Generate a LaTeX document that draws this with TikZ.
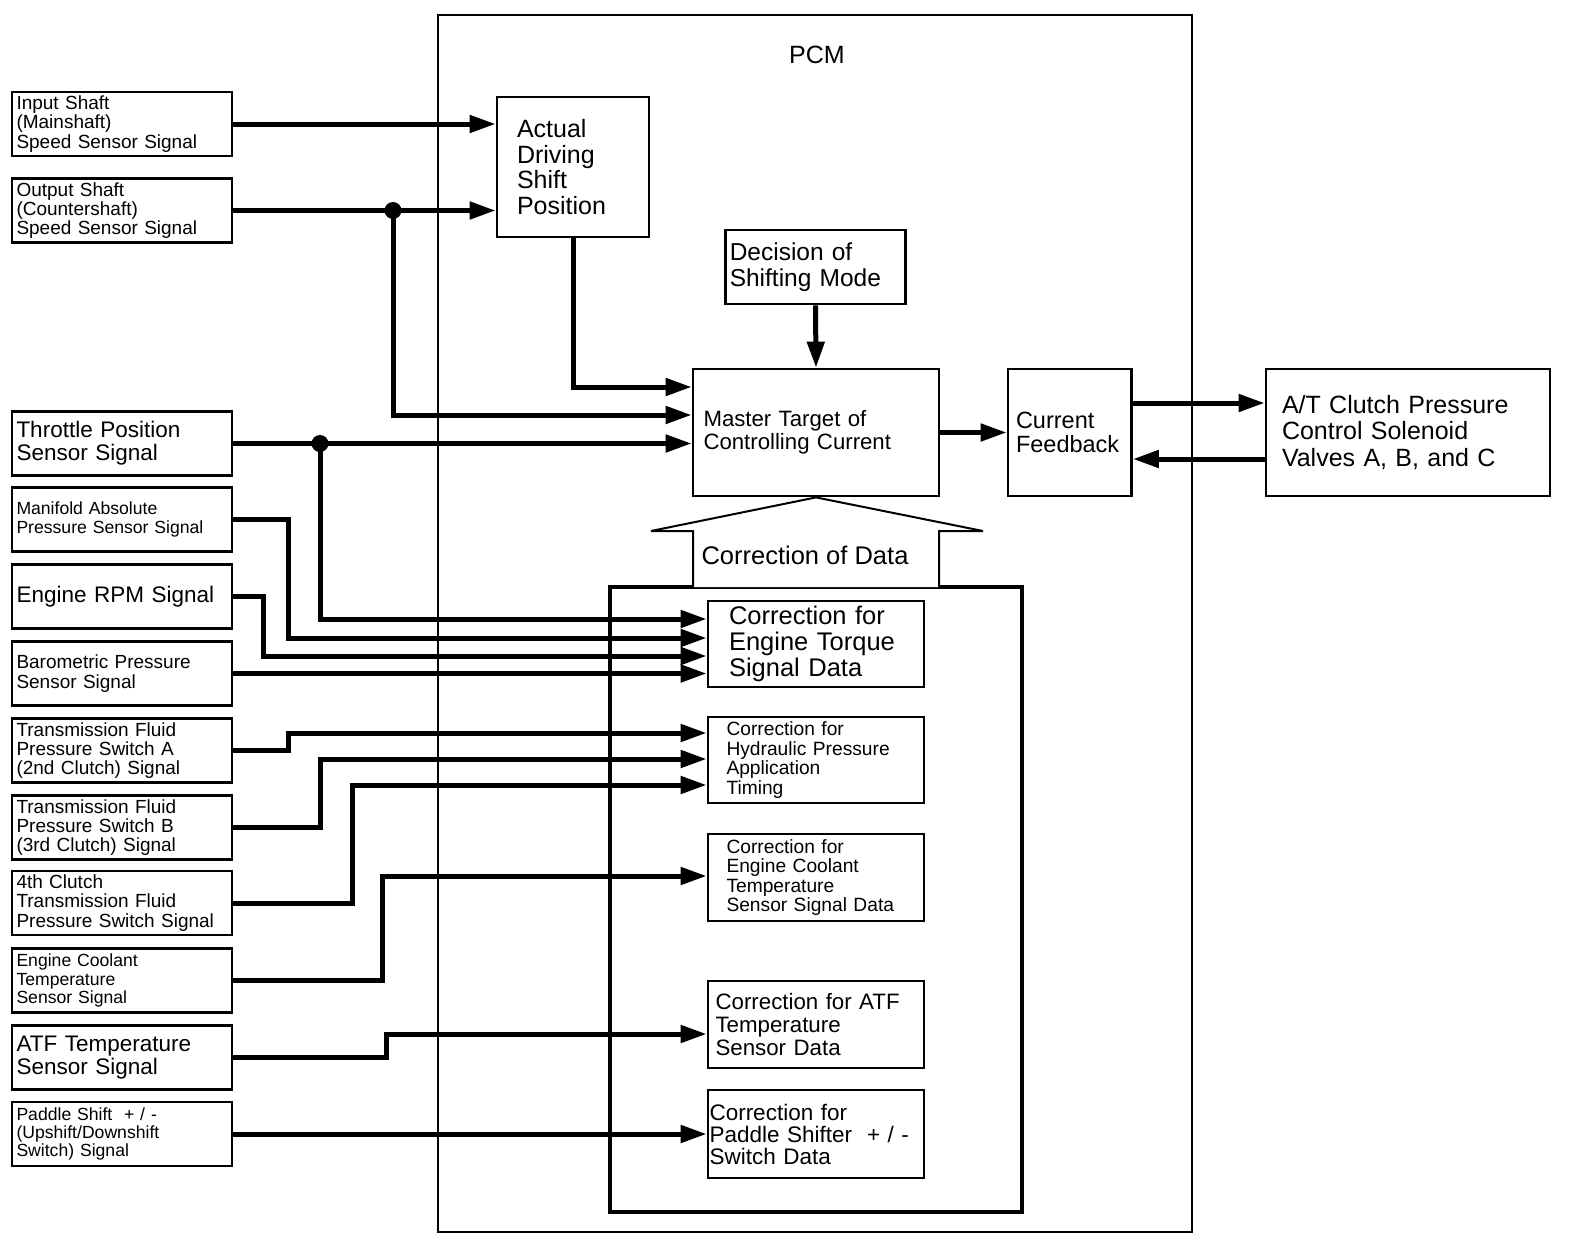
\documentclass[tikz,border=0pt]{standalone}
\usepackage{fontspec}
\setmainfont{Liberation Sans}
\usetikzlibrary{arrows.meta}
\tikzset{
  box/.style={draw, line width=2.8pt, align=left, inner ysep=0pt, anchor=center},
  lbox/.style={box, text width=211pt, inner xsep=4.5pt, minimum height=64pt},
  cbox/.style={box, minimum height=86pt},
  fsA/.style={font=\fontsize{19}{19.4}\selectfont},
  fsB/.style={font=\fontsize{17.6}{18.2}\selectfont},
  fsC/.style={font=\fontsize{22.5}{22.7}\selectfont},
  conn/.style={line width=5pt, -{Triangle[length=26pt,width=17pt]}},
  wire/.style={line width=5pt},
  dot/.style={circle, fill, inner sep=0pt, minimum size=17pt},
  frame/.style={draw, inner sep=0pt},
  hollow/.style={line width=2pt, fill=white, miter limit=2},
}
\begin{document}
\begin{tikzpicture}[x=1pt,y=-1pt]
\useasboundingbox (0,0) rectangle (1584,1242);

% frames
\node[frame, line width=2pt, minimum width=754pt, minimum height=1217pt] (pcm) at (815,623.5) {};
\node[font=\fontsize{25}{26}\selectfont] (pcmlabel) at (817,54.5) {PCM};
\node[frame, line width=3.5pt, minimum width=412pt, minimum height=625pt] (inner) at (816,899.5) {};

% left inputs
\node[lbox, fsA] (in1) at (122,124) {Input Shaft\\(Mainshaft)\\Speed Sensor Signal};
\node[lbox, fsA] (out1) at (122,210.5) {Output Shaft\\(Countershaft)\\Speed Sensor Signal};
\node[lbox, fsC] (tps) at (122,443.5) {Throttle Position\\Sensor Signal};
\node[lbox, fsB] (map) at (122,519.5) {Manifold Absolute\\Pressure Sensor Signal};
\node[lbox, fsC] (rpm) at (122,596.5) {Engine RPM Signal};
\node[lbox, fsA] (baro) at (122,673.5) {Barometric Pressure\\Sensor Signal};
\node[lbox, fsA] (tfa) at (122,750.5) {Transmission Fluid\\Pressure Switch A\\(2nd Clutch) Signal};
\node[lbox, fsA] (tfb) at (122,827.5) {Transmission Fluid\\Pressure Switch B\\(3rd Clutch) Signal};
\node[lbox, fsA] (c4) at (122,903) {4th Clutch\\Transmission Fluid\\Pressure Switch Signal};
\node[lbox, fsB] (ect) at (122,980.5) {Engine Coolant\\Temperature\\Sensor Signal};
\node[lbox, fsC] (atf) at (122,1057.5) {ATF Temperature\\Sensor Signal};
\node[lbox, fsB] (pad) at (122,1134) {Paddle Shift\ \ + / -\\(Upshift/Downshift\\Switch) Signal};

% PCM internal blocks
\node[box, font=\fontsize{25}{25.6}\selectfont, text width=112pt, inner xsep=20pt, minimum height=140pt] (actual) at (573,167) {Actual\\Driving\\Shift\\Position};
\node[box, font=\fontsize{24.5}{26}\selectfont, text width=171.5pt, inner xsep=4pt, minimum height=74pt] (decision) at (815.5,267) {Decision of\\Shifting Mode};
\node[box, font=\fontsize{22.2}{23}\selectfont, text width=225pt, inner xsep=10.5pt, minimum height=127pt] (master) at (816,432.5) {Master Target of\\Controlling Current};
\node[box, font=\fontsize{23.5}{23.5}\selectfont, text width=107.5pt, inner xsep=8pt, minimum height=127pt] (cf) at (1069.75,432.5) {Current\\Feedback};
\node[box, font=\fontsize{25}{26.5}\selectfont, text width=252pt, inner xsep=16pt, minimum height=127pt] (at) at (1408,432.5) {A/T Clutch Pressure\\Control Solenoid\\Valves A, B, and C};

% correction of data arrow
\draw[hollow] (693,587) -- (693,531) -- (651,531) -- (master.south) -- (983,531) -- (939,531) -- (939,587);
\node[font=\fontsize{25.5}{25.5}\selectfont] (cod) at (805,555.5) {Correction of Data};

% correction blocks
\node[cbox, font=\fontsize{25.5}{25.7}\selectfont, text width=174pt, inner xsep=21pt] (torque) at (816,644) {Correction for\\Engine Torque\\Signal Data};
\node[cbox, font=\fontsize{19.2}{19.5}\selectfont, text width=179pt, inner xsep=18.5pt] (hyd) at (816,760) {Correction for\\Hydraulic Pressure\\Application\\Timing};
\node[cbox, font=\fontsize{19.2}{19.2}\selectfont, text width=179pt, inner xsep=18.5pt, minimum height=87pt] (ectc) at (816,877.5) {Correction for\\Engine Coolant\\Temperature\\Sensor Signal Data};
\node[cbox, font=\fontsize{22.3}{23}\selectfont, text width=201pt, inner xsep=7.5pt, minimum height=87pt] (atfc) at (816,1024.5) {Correction for ATF\\Temperature\\Sensor Data};
\node[cbox, font=\fontsize{22.5}{22}\selectfont, text width=213pt, inner xsep=1.5pt, minimum height=88pt] (padc) at (816,1134) {Correction for\\Paddle Shifter\ \ + / -\\Switch Data};

% junction dots
\node[dot] (j1) at (393,0 |- out1.east) {};
\node[dot] (j2) at (320,0 |- tps.east) {};

% connectors to Actual / Master
\draw[conn] (in1.east) -- (actual.west |- in1.east);
\draw[conn] (out1.east) -- (actual.west |- out1.east);
\draw[conn] (j1.center) |- (master.west |- 0,415);
\draw[conn] (actual.south) |- (master.west |- 0,387);
\draw[conn] (tps.east) -- (master.west |- tps.east);
\draw[conn] (decision.south) -- (master.north);
\draw[conn] (master.east) -- (cf.west);
\draw[conn] (cf.east |- 0,403) -- (at.west |- 0,403);
\draw[conn] (at.west |- 0,459) -- (cf.east |- 0,459);

% connectors to correction blocks
\draw[conn] (j2.center) |- (torque.west |- 0,619);
\draw[conn] (map.east) -| (288,638) -- (torque.west |- 0,638);
\draw[conn] (rpm.east) -| (263,656) -- (torque.west |- 0,656);
\draw[conn] (baro.east) -- (torque.west |- baro.east);
\draw[conn] (tfa.east) -| (288,733) -- (hyd.west |- 0,733);
\draw[conn] (tfb.east) -| (320,759) -- (hyd.west |- 0,759);
\draw[conn] (c4.east) -| (352,785) -- (hyd.west |- 0,785);
\draw[conn] (ect.east) -| (382,876) -- (ectc.west |- 0,876);
\draw[conn] (atf.east) -| (386,1034) -- (atfc.west |- 0,1034);
\draw[conn] (pad.east) -- (padc.west |- pad.east);
\end{tikzpicture}
\end{document}
